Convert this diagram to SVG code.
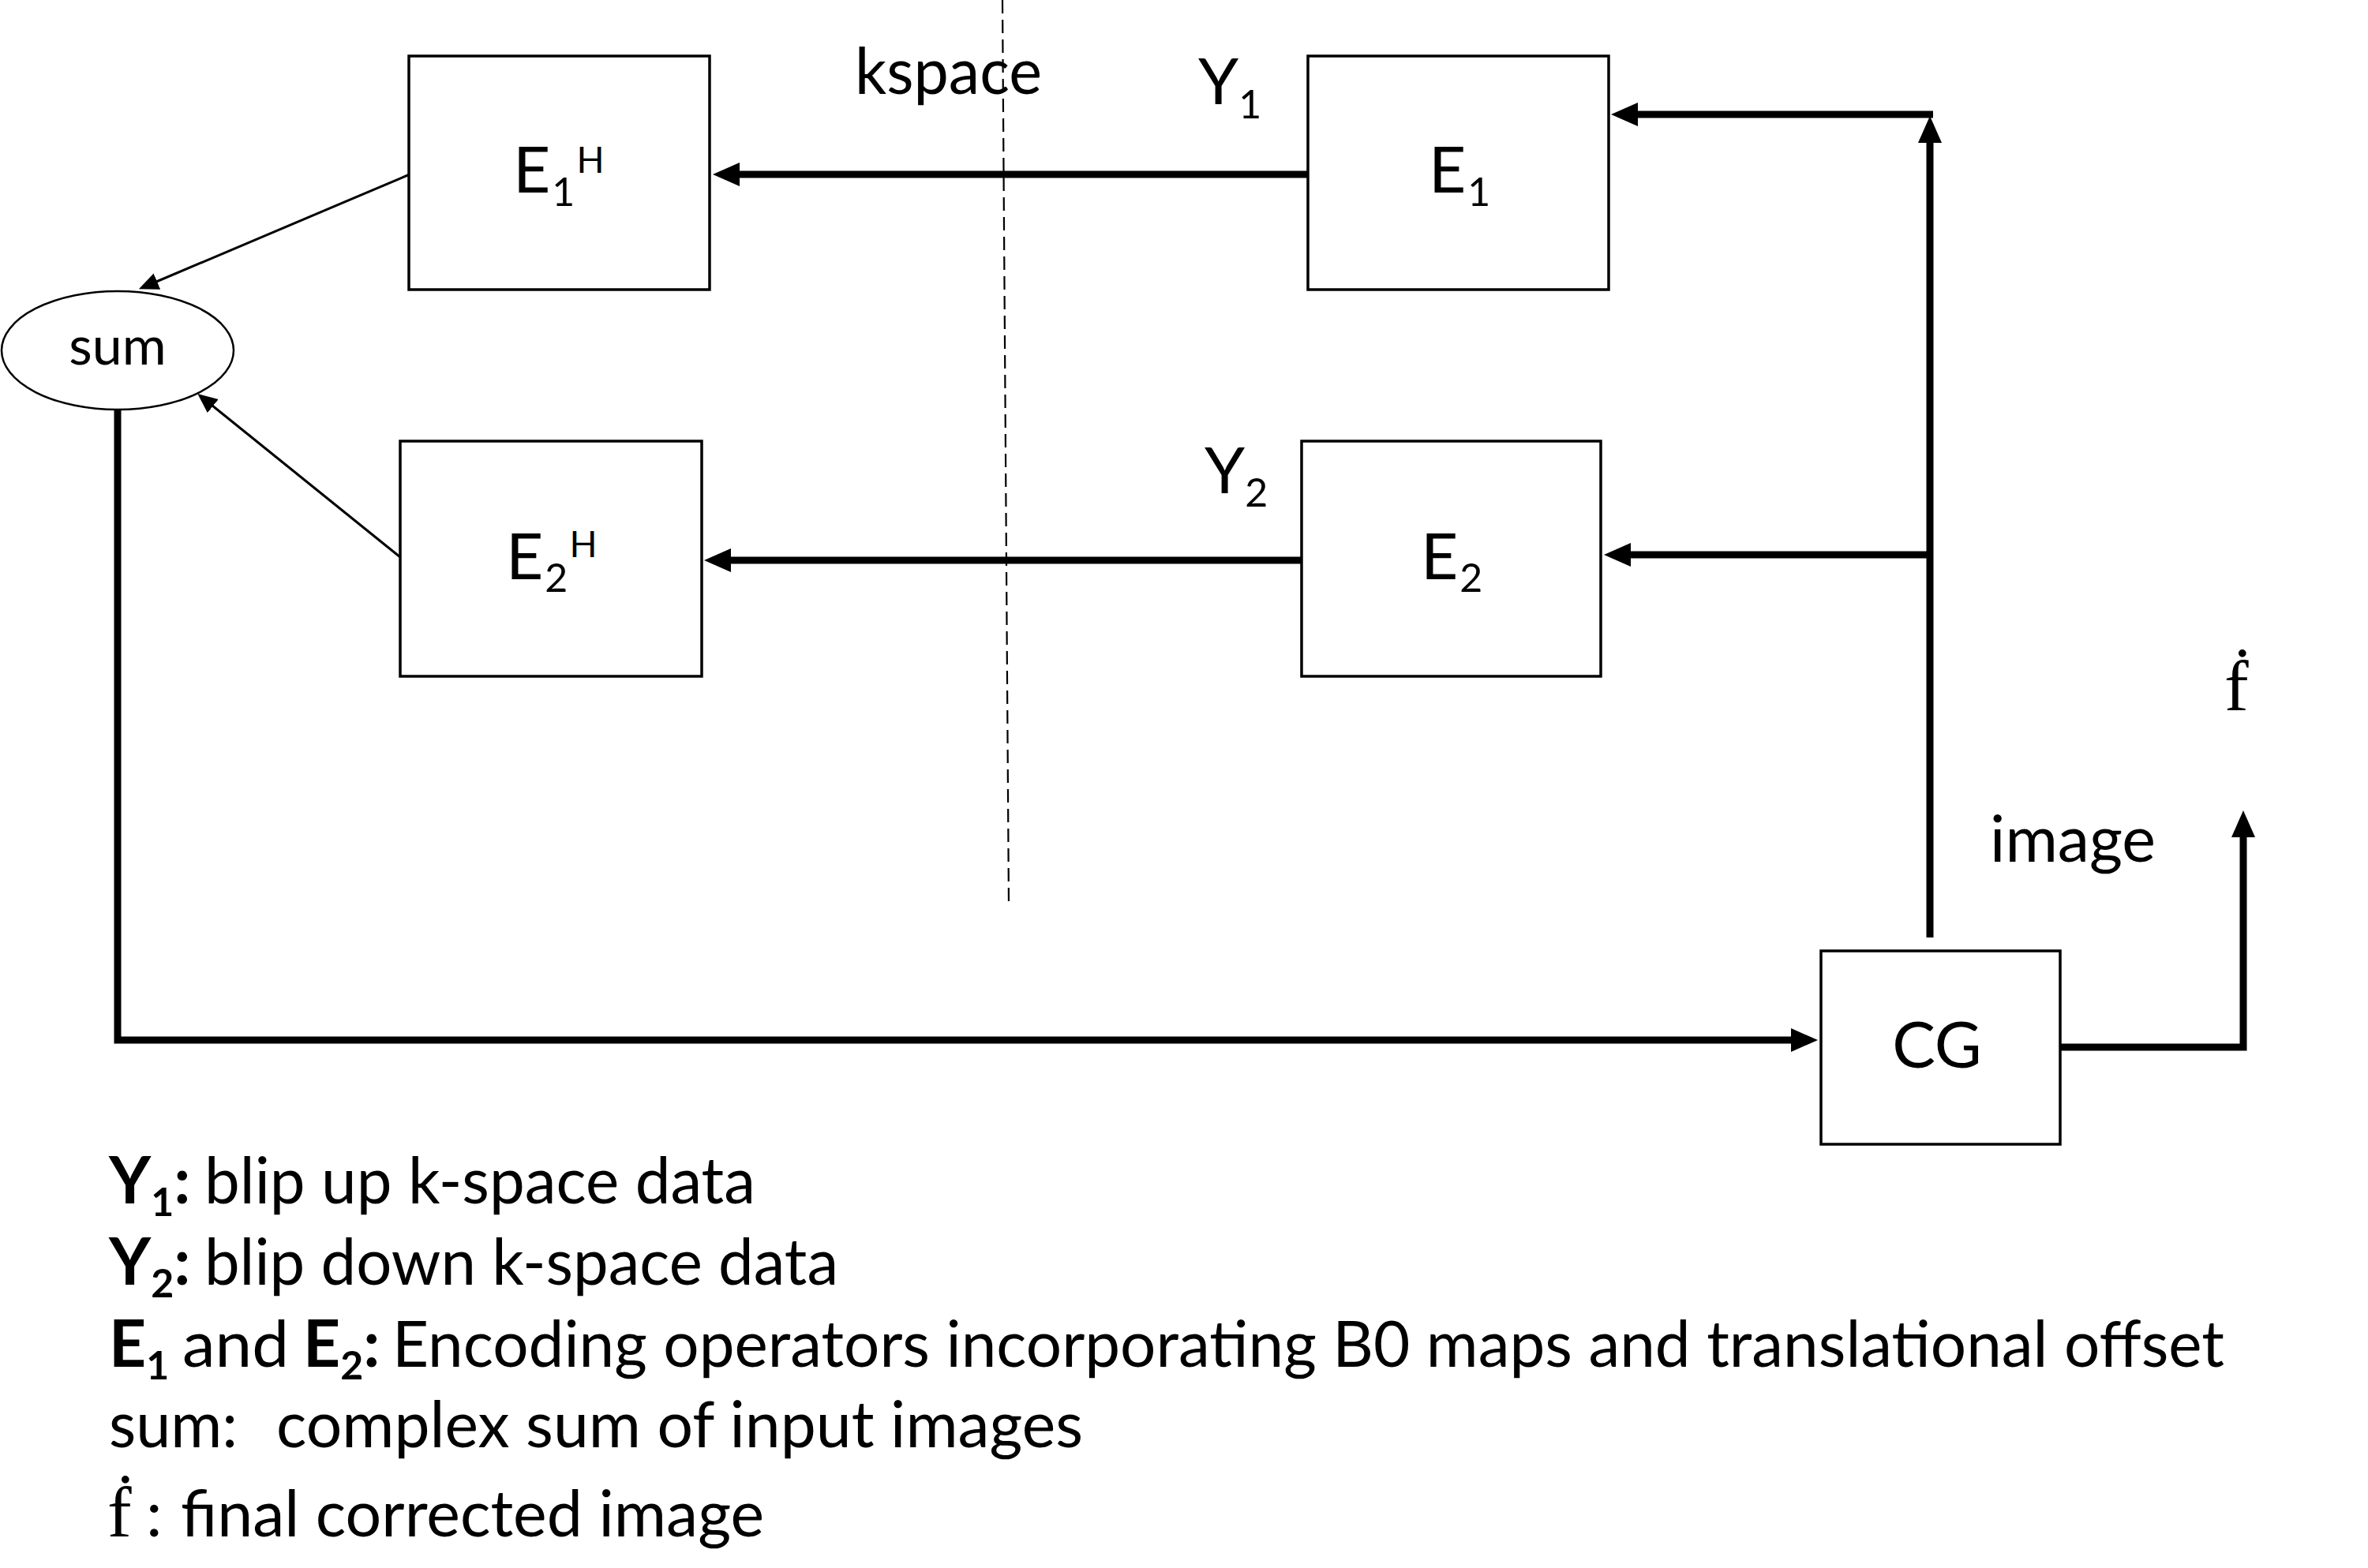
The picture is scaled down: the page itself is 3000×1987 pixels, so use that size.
<svg xmlns="http://www.w3.org/2000/svg" width="3000" height="1987" viewBox="0 0 3000 1987">
<style>
.box{fill:#fff;stroke:#000;stroke-width:3.5}
.thick{fill:none;stroke:#000;stroke-width:9;stroke-linecap:butt}
.thin{fill:none;stroke:#000;stroke-width:3}
.lbl{font-family:Lato,"Liberation Sans",sans-serif;font-size:82px;fill:#000}
.sub{font-size:50px}
.sup{font-size:46px}
.sm{font-family:Lato,"Liberation Sans",sans-serif;font-size:68px;fill:#000}
.ser{font-family:"Liberation Serif",serif;font-size:92px;fill:#000}
.b{font-weight:bold}
</style>
<defs>
<marker id="ah" markerUnits="userSpaceOnUse" markerWidth="36" markerHeight="32" refX="2" refY="15" orient="auto"><path d="M0,0 L34,15 L0,30 Z" fill="#000"/></marker>
<marker id="ahs" markerUnits="userSpaceOnUse" markerWidth="26" markerHeight="24" refX="1" refY="11" orient="auto"><path d="M0,0 L25,11 L0,22 Z" fill="#000"/></marker>
</defs>
<rect width="3000" height="1987" fill="#fff"/>

<g id="connectors">
<line x1="1270" y1="0" x2="1278" y2="1148" stroke="#000" stroke-width="2.2" stroke-dasharray="17,8"/>
<line class="thick" x1="1657" y1="221" x2="935" y2="221" marker-end="url(#ah)"/>
<line class="thick" x1="1649" y1="710" x2="924" y2="710" marker-end="url(#ah)"/>
<line class="thick" x1="2445" y1="1188" x2="2445" y2="179" marker-end="url(#ah)"/>
<line class="thick" x1="2449" y1="145" x2="2073" y2="145" marker-end="url(#ah)"/>
<line class="thick" x1="2445" y1="703" x2="2064" y2="703" marker-end="url(#ah)"/>
<polyline class="thick" points="149,519 149,1318 2271,1318" marker-end="url(#ah)"/>
<polyline class="thick" points="2609,1327 2842,1327 2842,1059" marker-end="url(#ah)"/>
<line class="thin" x1="519" y1="221" x2="198" y2="357" marker-end="url(#ahs)"/>
<line class="thin" x1="507" y1="706" x2="269" y2="514" marker-end="url(#ahs)"/>
</g>

<g id="node-E1H">
<rect class="box" x="518" y="71" width="381" height="296"/>
<text class="lbl" x="650" y="244">E<tspan class="sub" dx="2" dy="17">1</tspan><tspan class="sup" dx="2" dy="-42">H</tspan></text>
</g>
<g id="node-E2H">
<rect class="box" x="507" y="559" width="382" height="298"/>
<text class="lbl" x="641" y="734">E<tspan class="sub" dx="2" dy="16">2</tspan><tspan class="sup" dx="2" dy="-44">H</tspan></text>
</g>
<g id="node-E1">
<rect class="box" x="1657" y="71" width="381" height="296"/>
<text class="lbl" x="1810" y="244">E<tspan class="sub" dx="2" dy="17">1</tspan></text>
</g>
<g id="node-E2">
<rect class="box" x="1649" y="559" width="379" height="298"/>
<text class="lbl" x="1800" y="734">E<tspan class="sub" dx="2" dy="16">2</tspan></text>
</g>
<g id="node-sum">
<ellipse cx="149" cy="444" rx="147" ry="75" fill="#fff" stroke="#000" stroke-width="2.5"/>
<text class="sm" x="149" y="462" text-anchor="middle">sum</text>
</g>
<g id="node-CG">
<rect class="box" x="2307" y="1205" width="303" height="245"/>
<text class="lbl" x="2454" y="1353" text-anchor="middle">CG</text>
</g>

<g id="labels">
<text class="lbl" x="1083" y="119" textLength="237" lengthAdjust="spacingAndGlyphs">kspace</text>
<text class="lbl" x="1518" y="132">Y<tspan class="sub" dx="0" dy="18">1</tspan></text>
<text class="lbl" x="1526" y="625">Y<tspan class="sub" dx="0" dy="17">2</tspan></text>
<text class="lbl" x="2521" y="1092" textLength="210" lengthAdjust="spacingAndGlyphs">image</text>
<text class="ser" x="2818" y="900">ḟ</text>
</g>

<g id="legend">
<text class="lbl b" x="138" y="1525">Y<tspan class="sub" dy="16">1</tspan><tspan dy="-16">:</tspan></text>
<text class="lbl" x="259" y="1525" textLength="698" lengthAdjust="spacingAndGlyphs">blip up k-space data</text>
<text class="lbl b" x="138" y="1628">Y<tspan class="sub" dy="16">2</tspan><tspan dy="-16">:</tspan></text>
<text class="lbl" x="259" y="1628" textLength="803" lengthAdjust="spacingAndGlyphs">blip down k-space data</text>
<text class="lbl b" x="138" y="1732">E<tspan class="sub" dy="16">1</tspan></text>
<text class="lbl" x="231" y="1732" textLength="135" lengthAdjust="spacingAndGlyphs">and</text>
<text class="lbl b" x="384" y="1732">E<tspan class="sub" dy="16">2</tspan><tspan dy="-16">:</tspan></text>
<text class="lbl" x="497" y="1732" textLength="2321" lengthAdjust="spacingAndGlyphs">Encoding operators incorporating B0 maps and translational offset</text>
<text class="lbl" x="138" y="1834" textLength="163" lengthAdjust="spacingAndGlyphs">sum:</text>
<text class="lbl" x="350" y="1834" textLength="1022" lengthAdjust="spacingAndGlyphs">complex sum of input images</text>
<text class="ser" x="136" y="1947">ḟ</text>
<text class="lbl" x="185" y="1947">:</text>
<text class="lbl" x="229" y="1947" textLength="739" lengthAdjust="spacingAndGlyphs">final corrected image</text>
</g>
</svg>
